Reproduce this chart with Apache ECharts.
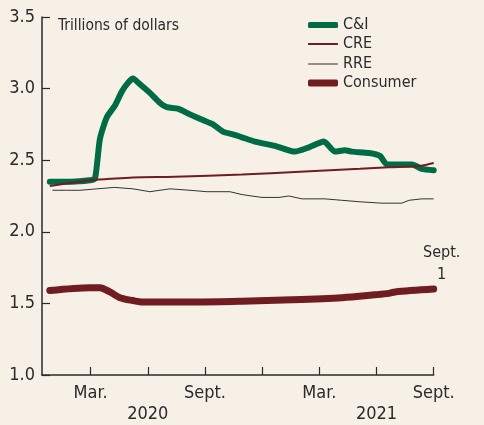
<!DOCTYPE html>
<html>
<head>
<meta charset="utf-8">
<script src="https://cdn.jsdelivr.net/npm/echarts@6/dist/echarts.min.js"></script>
<style>
  html, body { margin: 0; padding: 0; background: #f6f0e6; }
  #chart { width: 484px; height: 425px; }
</style>
</head>
<body>
<div id="chart"></div>
<script>
// x = months since Jan 1 2020 (2 = Mar. 2020, 20 = Sept. 1 2021)
var ciMonths = [-0.14, 1.0, 1.96, 2.23, 2.49, 2.85, 3.27, 3.64, 3.96, 4.22, 4.59, 5.11, 5.64, 6.0, 6.58, 7.21, 7.89, 8.42, 8.94, 9.47, 9.94, 10.62, 11.67, 12.72, 13.46, 14.24, 14.82, 15.34, 15.71, 16.6, 17.18, 17.55, 18.18, 18.86, 19.38, 20.0];
var ciValues = [2.35, 2.35, 2.36, 2.37, 2.65, 2.80, 2.88, 2.98, 3.04, 3.07, 3.03, 2.97, 2.90, 2.87, 2.86, 2.82, 2.78, 2.75, 2.70, 2.68, 2.66, 2.63, 2.60, 2.56, 2.59, 2.63, 2.56, 2.57, 2.56, 2.55, 2.53, 2.47, 2.47, 2.47, 2.44, 2.43];

var creMonths = [-0.14, 1.96, 3.0, 4.22, 6.42, 9.94, 12.98, 16.13, 17.65, 19.28, 20.0];
var creValues = [2.32, 2.36, 2.37, 2.38, 2.385, 2.40, 2.42, 2.44, 2.45, 2.46, 2.48];

var rreMonths = [0.0, 0.75, 1.44, 2.33, 3.27, 4.22, 5.11, 6.16, 7.21, 8.10, 9.31, 9.94, 10.46, 10.99, 11.88, 12.40, 13.09, 14.29, 15.18, 16.08, 17.28, 18.33, 18.70, 19.38, 20.0];
var rreValues = [2.29, 2.29, 2.29, 2.30, 2.31, 2.30, 2.28, 2.30, 2.29, 2.28, 2.28, 2.26, 2.25, 2.24, 2.24, 2.25, 2.23, 2.23, 2.22, 2.21, 2.20, 2.20, 2.22, 2.23, 2.23];

var conMonths = [-0.14, 1.96, 2.49, 3.01, 3.54, 4.22, 4.74, 7.73, 9.94, 12.56, 15.18, 16.92, 17.65, 17.97, 20.0];
var conValues = [1.59, 1.61, 1.61, 1.58, 1.54, 1.52, 1.51, 1.51, 1.515, 1.525, 1.54, 1.56, 1.57, 1.58, 1.60];

var tickMonths = [2, 5, 8, 11, 14, 17, 20];
var labelMonths = [2, 5, 8, 14, 17, 20];
var tickLabels = {2: 'Mar.', 5: '\n2020', 8: 'Sept.', 14: 'Mar.', 17: '\n2021', 20: 'Sept.'};

function pairs(xs, ys) {
    return xs.map(function (x, i) { return [x, ys[i]]; });
}

var font = '"Liberation Sans Narrow", "DejaVu Sans Condensed", sans-serif';
var green = '#006b45';
var maroon = '#701d22';
var ink = '#2b2b2b';

// one legend per row so each key can keep its own line thickness
function legendRow(name, top, h) {
    return {
        data: [name],
        left: 303,
        top: top,
        icon: 'roundRect',
        itemWidth: 30,
        itemHeight: h,
        selectedMode: false,
        textStyle: { fontFamily: font, fontSize: 16, color: ink }
    };
}

var myChart = echarts.init(document.getElementById('chart'));
var option = {
    backgroundColor: '#f6f0e6',
    animation: false,
    textStyle: { fontFamily: font, color: ink },
    title: {
        text: 'Trillions of dollars',
        left: 53,
        top: 13,
        textStyle: { fontFamily: font, fontSize: 15.5, fontWeight: 'normal', color: ink }
    },
    legend: [
        legendRow('C&I', 12, 6),
        legendRow('CRE', 31, 2),
        legendRow('RRE', 51, 1),
        legendRow('Consumer', 70, 7)
    ],
    grid: { left: 42, right: 50.3, top: 17, bottom: 48 },
    xAxis: {
        type: 'value',
        min: -0.55,
        max: 20,
        splitLine: { show: false },
        axisLine: { lineStyle: { color: ink, width: 1.5 } },
        axisTick: {
            inside: true,
            length: 8,
            customValues: tickMonths,
            lineStyle: { color: ink, width: 1.2 }
        },
        axisLabel: {
            customValues: labelMonths,
            fontFamily: font,
            fontSize: 18,
            lineHeight: 21,
            color: ink,
            margin: 8,
            formatter: function (v) { return tickLabels[v] || ''; }
        }
    },
    yAxis: {
        type: 'value',
        min: 1,
        max: 3.5,
        interval: 0.5,
        splitLine: { show: false },
        axisLine: { show: true, onZero: false, lineStyle: { color: ink, width: 1.5 } },
        axisTick: { inside: true, length: 8, lineStyle: { color: ink, width: 1.2 } },
        axisLabel: {
            fontFamily: font,
            fontSize: 18,
            color: ink,
            margin: 7,
            formatter: function (v) { return v.toFixed(1); }
        }
    },
    series: [
        {
            name: 'C&I',
            type: 'line',
            data: pairs(ciMonths, ciValues),
            symbol: 'none',
            smooth: 0.2,
            color: green,
            lineStyle: { color: green, width: 6, cap: 'round', join: 'round' }
        },
        {
            name: 'CRE',
            type: 'line',
            data: pairs(creMonths, creValues),
            symbol: 'none',
            smooth: 0.3,
            color: maroon,
            lineStyle: { color: maroon, width: 2 }
        },
        {
            name: 'RRE',
            type: 'line',
            data: pairs(rreMonths, rreValues),
            symbol: 'none',
            color: '#333333',
            lineStyle: { color: '#333333', width: 1 }
        },
        {
            name: 'Consumer',
            type: 'line',
            data: pairs(conMonths, conValues),
            symbol: 'none',
            smooth: 0.3,
            color: maroon,
            lineStyle: { color: maroon, width: 7, cap: 'round', join: 'round' },
            markPoint: {
                symbol: 'circle',
                symbolSize: 0,
                data: [{ coord: [20, 1.60] }],
                label: {
                    show: true,
                    formatter: 'Sept.\n1',
                    position: 'top',
                    distance: 3,
                    offset: [8, 0],
                    fontFamily: font,
                    fontSize: 16,
                    lineHeight: 22,
                    color: ink,
                    align: 'center'
                }
            }
        }
    ]
};
myChart.setOption(option);
</script>
</body>
</html>
